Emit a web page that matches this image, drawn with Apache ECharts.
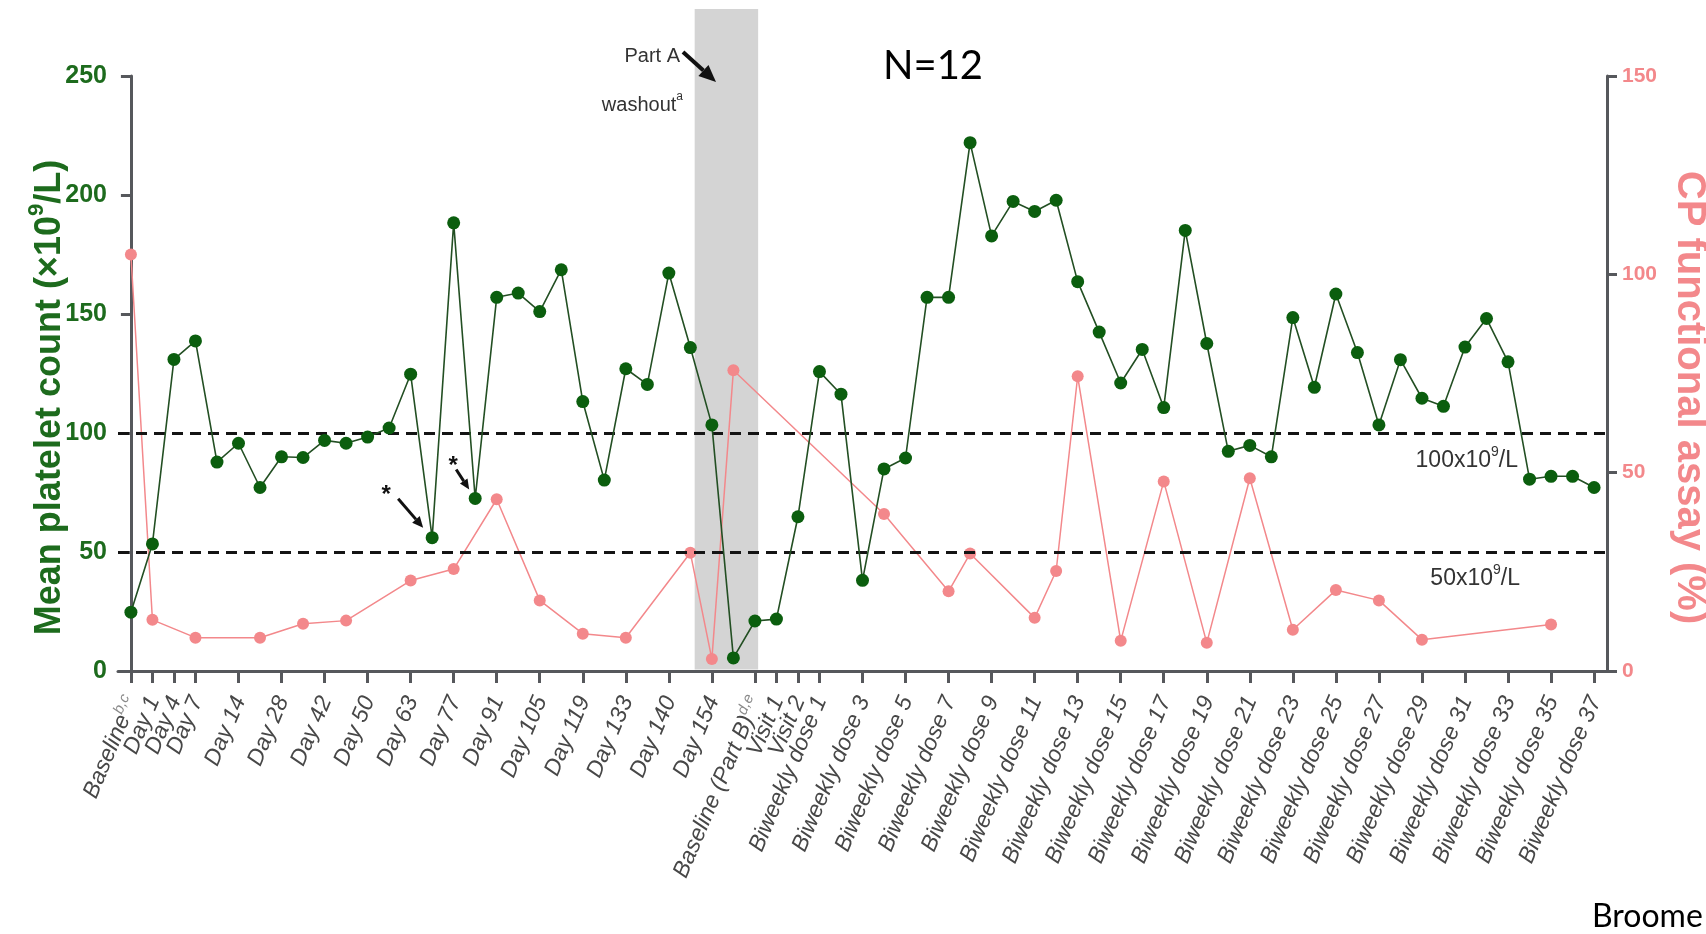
<!DOCTYPE html>
<html>
<head>
<meta charset="utf-8">
<title>Mean platelet count and CP functional assay</title>
<script src="https://cdn.jsdelivr.net/npm/echarts@6/dist/echarts.min.js"></script>
<style>
  html, body { margin: 0; padding: 0; background: #ffffff; }
  #chart { width: 1706px; height: 934px; }
</style>
</head>
<body>
<div id="chart"></div>
<script>
// Mean platelet count (x10^9/L), one value per visit slot 0..68
const platelet = [24.7, 53.4, 130.9, 138.7, 87.8, 95.7, 77.1, 90.0, 89.7, 96.9,
  95.7, 98.3, 102.1, 124.7, 56.0, 188.3, 72.5, 157.0, 158.8, 151.0,
  168.6, 113.2, 80.2, 127.0, 120.4, 167.2, 135.9, 103.4, 5.5, 21.0,
  21.8, 64.8, 125.8, 116.3, 38.1, 84.9, 89.5, 157.0, 157.0, 222.0,
  182.8, 197.3, 193.1, 197.8, 163.6, 142.4, 121.0, 135.1, 110.7, 185.1,
  137.6, 92.3, 94.8, 90.0, 148.5, 119.2, 158.4, 133.8, 103.4, 130.8,
  114.6, 111.2, 136.1, 148.1, 129.9, 80.6, 81.8, 81.8, 77.1];

// CP functional assay (%), measured only at some visit slots
const cpSlot = [0, 1, 3, 6, 8, 10, 13, 15, 17, 19, 21, 23, 26, 27, 28,
  35, 38, 39, 42, 43, 44, 46, 48, 50, 52, 54, 56, 58, 60, 66];
const cpValue = [105.0, 12.9, 8.4, 8.4, 11.9, 12.7, 22.8, 25.7, 43.3, 17.8, 9.4, 8.4, 29.8, 3.0, 75.8,
  39.6, 20.1, 29.6, 13.4, 25.2, 74.3, 7.6, 47.8, 7.1, 48.6, 10.4, 20.4, 17.8, 7.9, 11.7];

// Labelled visit slots on the x axis, with their footnote marks
const tickSlot = [0, 1, 2, 3, 5, 7, 9, 11, 13, 15, 17, 19, 21, 23, 25, 27, 29, 30, 31,
  32, 34, 36, 38, 40, 42, 44, 46, 48, 50, 52, 54, 56, 58, 60, 62, 64, 66, 68];
const tickText = ['Baseline', 'Day 1', 'Day 4', 'Day 7', 'Day 14', 'Day 28', 'Day 42', 'Day 50',
  'Day 63', 'Day 77', 'Day 91', 'Day 105', 'Day 119', 'Day 133', 'Day 140', 'Day 154',
  'Baseline (Part B)', 'Visit 1', 'Visit 2',
  'Biweekly dose 1', 'Biweekly dose 3', 'Biweekly dose 5', 'Biweekly dose 7', 'Biweekly dose 9',
  'Biweekly dose 11', 'Biweekly dose 13', 'Biweekly dose 15', 'Biweekly dose 17', 'Biweekly dose 19',
  'Biweekly dose 21', 'Biweekly dose 23', 'Biweekly dose 25', 'Biweekly dose 27', 'Biweekly dose 29',
  'Biweekly dose 31', 'Biweekly dose 33', 'Biweekly dose 35', 'Biweekly dose 37'];
const tickNote = ['b,c', '', '', '', '', '', '', '', '', '', '', '', '', '', '', '',
  'd,e', '', '', '', '', '', '', '', '', '', '', '', '', '', '', '', '', '', '', '', '', ''];

// Part A washout period (in visit-slot units) and the reference thresholds
const washoutSpan = [26.2, 29.15];
const thresholds = [100, 50];

const FONT = '"Liberation Sans", Arial, Helvetica, sans-serif';
const AXIS = '#56585c';
const GREEN_TXT = '#1d6b1d';
const PINK = '#f3888b';

// Category list for the tick axis: one blank spacer slot at each end, so the
// automatic first/last label handling only ever touches an empty label.
const slotCount = platelet.length;
const catCount = slotCount + 2;
const categories = new Array(catCount).fill('');
const notes = new Array(catCount).fill('');
tickSlot.forEach((s, k) => { categories[s + 1] = tickText[k]; notes[s + 1] = tickNote[k]; });

// plot frame; the label axis grid spans slot -1 .. slot 69 so the slots line up
const GRID = { left: 118, right: 99, top: 76, bottom: 263 };
const X_MIN = -0.6, X_MAX = 68.6;
const W = 1706;
const plotW = W - GRID.left - GRID.right;
const slotPx = (s) => GRID.left + (s - X_MIN) / (X_MAX - X_MIN) * plotW;
const catLeft = slotPx(-1);
const catRight = slotPx(slotCount);

const tickShown = (i) => categories[i] !== '';
const labelShown = (i) => i === 0 || i === catCount - 1 || categories[i] !== '';

const option = {
  animation: false,
  backgroundColor: '#ffffff',
  textStyle: { fontFamily: FONT },
  grid: [
    { left: GRID.left, right: GRID.right, top: GRID.top, bottom: GRID.bottom, containLabel: false, outerBoundsMode: 'none' },
    { left: catLeft, right: W - catRight, top: GRID.top, bottom: GRID.bottom, containLabel: false, outerBoundsMode: 'none' }
  ],
  xAxis: [
    {
      type: 'value', gridIndex: 0, min: X_MIN, max: X_MAX,
      axisLine: { show: true, onZero: false, lineStyle: { color: AXIS, width: 3 } },
      axisTick: { show: false }, axisLabel: { show: false }, splitLine: { show: false }
    },
    {
      type: 'category', gridIndex: 1, data: categories, boundaryGap: false,
      axisLine: { show: false },
      axisTick: { show: true, interval: tickShown, length: 12, lineStyle: { color: AXIS, width: 3 } },
      axisLabel: {
        interval: labelShown, rotate: 67, margin: 26,
        formatter: (v, i) => {
          if (!v) return '';
          return notes[i] ? '{t|' + v + '}{s|' + notes[i] + '}' : '{t|' + v + '}';
        },
        rich: {
          t: { fontFamily: FONT, fontSize: 23, fontStyle: 'italic', color: '#474747', lineHeight: 26, verticalAlign: 'bottom' },
          s: { fontFamily: FONT, fontSize: 15, fontStyle: 'italic', color: '#8a8a8a', lineHeight: 15, verticalAlign: 'top' }
        }
      },
      splitLine: { show: false }
    }
  ],
  yAxis: [
    {
      type: 'value', gridIndex: 0, position: 'left', min: 0, max: 250, interval: 50,
      name: '{t|Mean platelet count (×10}{s|9}{t|/L)}',
      nameLocation: 'middle', nameGap: 50, nameMoveOverlap: false,
      nameTextStyle: {
        color: GREEN_TXT, fontWeight: 'bold', fontSize: 36,
        padding: [0, 48, 0, 0],
        rich: {
          t: { fontFamily: FONT, color: GREEN_TXT, fontWeight: 'bold', fontSize: 36, lineHeight: 42, verticalAlign: 'bottom' },
          s: { fontFamily: FONT, color: GREEN_TXT, fontWeight: 'bold', fontSize: 22, lineHeight: 22, verticalAlign: 'top' }
        }
      },
      axisLine: { show: true, lineStyle: { color: AXIS, width: 3 } },
      axisTick: { show: true, length: 10, lineStyle: { color: AXIS, width: 3 } },
      axisLabel: { color: GREEN_TXT, fontWeight: 'bold', fontSize: 25, margin: 11 },
      splitLine: { show: false }
    },
    {
      type: 'value', gridIndex: 0, position: 'right', min: 0, max: 150, interval: 50,
      name: 'CP functional assay (%)',
      nameLocation: 'middle', nameGap: 62, nameRotate: -90, nameMoveOverlap: false,
      nameTextStyle: { color: PINK, fontWeight: 'bold', fontSize: 40, padding: [0, 0, 0, 48] },
      axisLine: { show: true, lineStyle: { color: AXIS, width: 3 } },
      axisTick: { show: true, length: 10, lineStyle: { color: AXIS, width: 3 } },
      axisLabel: { color: PINK, fontWeight: 'bold', fontSize: 21, margin: 15 },
      splitLine: { show: false }
    },
    { type: 'value', gridIndex: 1, show: false, min: 0, max: 250 }
  ],
  series: [
    {
      name: 'CP functional assay', type: 'line', xAxisIndex: 0, yAxisIndex: 1,
      data: cpSlot.map((s, k) => [s, cpValue[k]]),
      symbol: 'circle', symbolSize: 12,
      itemStyle: { color: PINK },
      lineStyle: { color: PINK, width: 1.5 },
      z: 4
    },
    {
      name: 'Mean platelet count', type: 'line', xAxisIndex: 0, yAxisIndex: 0,
      data: platelet.map((v, i) => [i, v]),
      symbol: 'circle', symbolSize: 13,
      itemStyle: { color: '#0b5e0e' },
      lineStyle: { color: '#234f23', width: 1.6 },
      z: 5,
      markLine: {
        silent: true, symbol: ['none', 'none'], animation: false,
        label: { show: false },
        lineStyle: { color: '#141414', type: [11, 7], width: 3 },
        data: thresholds.map(t => ({ yAxis: t }))
      }
    }
  ]
};

const chart = echarts.init(document.getElementById('chart'), null, { renderer: 'canvas' });
chart.setOption(option);

// ---- annotations placed through the axis scales ----
const toPx = (x, y) => chart.convertToPixel({ xAxisIndex: 0, yAxisIndex: 0 }, [x, y]);

function arrow(x1, y1, x2, y2, w, headLen, headW) {
  const a = Math.atan2(y2 - y1, x2 - x1);
  const bx = x2 - headLen * Math.cos(a), by = y2 - headLen * Math.sin(a);
  const nx = -Math.sin(a) * headW / 2, ny = Math.cos(a) * headW / 2;
  return [
    { type: 'line', silent: true, z: 30, shape: { x1: x1, y1: y1, x2: bx, y2: by }, style: { stroke: '#111', lineWidth: w } },
    { type: 'polygon', silent: true, z: 30, shape: { points: [[x2, y2], [bx + nx, by + ny], [bx - nx, by - ny]] }, style: { fill: '#111' } }
  ];
}

const axisY = toPx(0, 0)[1];
const bandL = toPx(washoutSpan[0], 0)[0];
const bandR = toPx(washoutSpan[1], 0)[0];
const yT100 = toPx(0, thresholds[0])[1];
const yT50 = toPx(0, thresholds[1])[1];
const dip1 = toPx(14, platelet[14]);
const dip2 = toPx(16, platelet[16]);

const supRich = (size) => ({
  m: { fontFamily: FONT, fontSize: size, fill: '#333', lineHeight: size + 4, verticalAlign: 'bottom' },
  s: { fontFamily: FONT, fontSize: Math.round(size * 0.62), fill: '#333', lineHeight: Math.round(size * 0.62), verticalAlign: 'top' }
});

const elements = [
  // washout period band
  { type: 'rect', silent: true, z: -1, shape: { x: bandL, y: 9, width: bandR - bandL, height: axisY - 1.5 - 9 }, style: { fill: '#d4d4d4' } },

  { type: 'text', silent: true, z: 30, style: { text: 'Part A', x: 680, y: 56, align: 'right', verticalAlign: 'middle', font: '20px ' + FONT, fill: '#333' } },
  { type: 'text', silent: true, z: 30, style: { text: '{m|washout}{s|a}', x: 683, y: 103, align: 'right', verticalAlign: 'middle', rich: supRich(20) } },
  ...arrow(683, 52, 716, 82, 4, 17, 15),

  { type: 'text', silent: true, z: 30, style: { text: 'N=12', x: 933, y: 66, align: 'center', verticalAlign: 'middle', font: '40px Lato, "Open Sans", sans-serif', fill: '#000' } },

  { type: 'text', silent: true, z: 30, style: { text: '{m|100x10}{s|9}{m|/L}', x: 1518, y: yT100 + 26, align: 'right', verticalAlign: 'middle', rich: supRich(23) } },
  { type: 'text', silent: true, z: 30, style: { text: '{m|50x10}{s|9}{m|/L}', x: 1520, y: yT50 + 25, align: 'right', verticalAlign: 'middle', rich: supRich(23) } },

  // asterisks marking the two dips
  { type: 'text', silent: true, z: 30, style: { text: '*', x: dip1[0] - 46, y: dip1[1] - 42, align: 'center', verticalAlign: 'middle', font: 'bold 24px ' + FONT, fill: '#111' } },
  ...arrow(dip1[0] - 34, dip1[1] - 39, dip1[0] - 9, dip1[1] - 10, 3, 11, 10),
  { type: 'text', silent: true, z: 30, style: { text: '*', x: dip2[0] - 22, y: dip2[1] - 32, align: 'center', verticalAlign: 'middle', font: 'bold 24px ' + FONT, fill: '#111' } },
  ...arrow(dip2[0] - 19, dip2[1] - 29, dip2[0] - 6, dip2[1] - 9, 3, 10, 9),

  { type: 'text', silent: true, z: 30, style: { text: 'Broome', x: 1592, y: 917, align: 'left', verticalAlign: 'middle', font: '32px Lato, "Open Sans", sans-serif', fill: '#000' } }
];

chart.setOption({ graphic: { elements: elements } });
</script>
</body>
</html>
